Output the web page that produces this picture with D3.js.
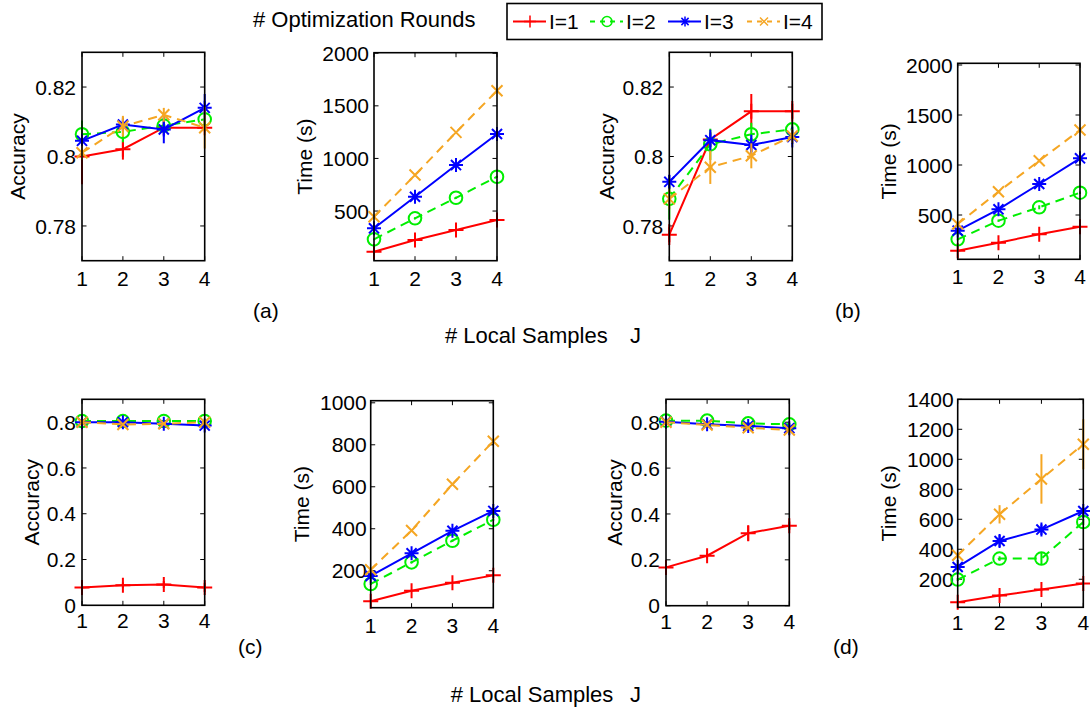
<!DOCTYPE html>
<html><head><meta charset="utf-8">
<script src="https://cdn.jsdelivr.net/npm/d3@7"></script>
<style>
body{margin:0;background:#fff}
svg{display:block}
text{font-family:"Liberation Sans",Arial,Helvetica,sans-serif;fill:#000}
</style>
</head><body>
<svg id="chart" width="1090" height="709"></svg>
<script>
// ---------- data ----------
const J = [1, 2, 3, 4];
const seriesLabels = ["I=1", "I=2", "I=3", "I=4"];

// (a) accuracy, rows = I=1..4
const accA = [
  [0.8000, 0.8021, 0.8083, 0.8083],
  [0.8064, 0.8071, 0.8089, 0.8107],
  [0.8045, 0.8092, 0.8078, 0.8140],
  [0.8011, 0.8087, 0.8120, 0.8083]
];
const accAErr = [
  [0.008, 0.003, 0.001, 0.001],
  [0.004, 0.003, 0.001, 0.002],
  [0.001, 0.0015, 0.004, 0.004],
  [0.002, 0.003, 0.002, 0.006]
];
// (a) time (s)
const timeA = [
  [113, 224, 319, 414],
  [231, 431, 626, 826],
  [336, 636, 937, 1232],
  [446, 842, 1248, 1644]
];
const timeAErr = [
  [8, 8, 8, 8],
  [8, 10, 10, 10],
  [10, 10, 12, 12],
  [10, 12, 12, 12]
];
// (b) accuracy
const accB = [
  [0.7775, 0.8049, 0.8130, 0.8130],
  [0.7878, 0.8035, 0.8064, 0.8078],
  [0.7927, 0.8047, 0.8033, 0.8056],
  [0.7878, 0.7969, 0.8002, 0.8059]
];
const accBErr = [
  [0.003, 0.001, 0.005, 0.003],
  [0.006, 0.0045, 0.0033, 0.002],
  [0.002, 0.003, 0.003, 0.003],
  [0.003, 0.0048, 0.0036, 0.002]
];
// (b) time (s)
const timeB = [
  [143, 223, 307, 383],
  [257, 443, 577, 723],
  [343, 557, 810, 1067],
  [410, 733, 1043, 1350]
];
const timeBErr = [
  [8, 8, 8, 8],
  [10, 12, 20, 12],
  [10, 12, 15, 15],
  [12, 15, 15, 15]
];
// (c) accuracy
const accC = [
  [0.078, 0.088, 0.091, 0.078],
  [0.805, 0.805, 0.805, 0.805],
  [0.800, 0.800, 0.793, 0.785],
  [0.800, 0.790, 0.793, 0.800]
];
const accCErr = [
  [0.012, 0.012, 0.015, 0.02],
  [0.005, 0.005, 0.005, 0.005],
  [0.005, 0.005, 0.005, 0.005],
  [0.005, 0.005, 0.005, 0.005]
];
// (c) time (s)
const timeC = [
  [55, 105, 143, 178],
  [137, 240, 343, 443],
  [175, 283, 390, 485],
  [205, 392, 612, 817]
];
const timeCErr = [
  [4, 4, 4, 4],
  [5, 5, 5, 5],
  [5, 5, 5, 5],
  [6, 6, 6, 6]
];
// (d) accuracy
const accD = [
  [0.167, 0.218, 0.316, 0.349],
  [0.807, 0.807, 0.795, 0.791],
  [0.802, 0.791, 0.784, 0.774],
  [0.800, 0.788, 0.776, 0.766]
];
const accDErr = [
  [0.01, 0.012, 0.035, 0.018],
  [0.005, 0.005, 0.005, 0.005],
  [0.005, 0.005, 0.005, 0.005],
  [0.005, 0.005, 0.005, 0.005]
];
// (d) time (s)
const timeD = [
  [47, 91, 131, 171],
  [198, 338, 338, 582],
  [282, 455, 531, 655],
  [360, 633, 869, 1100]
];
const timeDErr = [
  [5, 5, 5, 5],
  [10, 15, 40, 20],
  [10, 40, 35, 25],
  [15, 61, 165, 167]
];

const accTicksTop = [0.78, 0.8, 0.82];
const accTicksBottom = [0, 0.2, 0.4, 0.6, 0.8];
const timeTicksTop = [500, 1000, 1500, 2000];
const timeTicksC = [200, 400, 600, 800, 1000];
const timeTicksD = [200, 400, 600, 800, 1000, 1200, 1400];

// ---------- styles ----------
const colors = ["#ff0000", "#00ee00", "#0000ff", "#f5a623"];
const dashes = [null, "9,6", null, "9,6"];
const markers = ["plus", "circle", "star", "cross"];

const panels = [
  {box:{l:82, t:52.3, r:204.7, b:260.7}, yDomain:[0.77, 0.83], yTicks:accTicksTop, yLabel:"Accuracy", labelDx:64, vals:accA, errs:accAErr, yGap:6, xGap:10},
  {box:{l:374, t:52.7, r:497, b:260.7}, yDomain:[28, 2005], yTicks:timeTicksTop, yLabel:"Time (s)", labelDx:69, vals:timeA, errs:timeAErr, yGap:5, xGap:10},
  {box:{l:669.3, t:52.3, r:792.3, b:260.7}, yDomain:[0.77, 0.83], yTicks:accTicksTop, yLabel:"Accuracy", labelDx:63, vals:accB, errs:accBErr, yGap:6, xGap:10},
  {box:{l:957.7, t:63.3, r:1080, b:259.3}, yDomain:[57, 2017], yTicks:timeTicksTop, yLabel:"Time (s)", labelDx:69, vals:timeB, errs:timeBErr, yGap:5, xGap:10},
  {box:{l:82, t:399.3, r:204.7, b:605.3}, yDomain:[0, 0.9], yTicks:accTicksBottom, yLabel:"Accuracy", labelDx:50, vals:accC, errs:accCErr, yGap:6, xGap:8},
  {box:{l:370.7, t:400.7, r:493.3, b:607.7}, yDomain:[24, 1010], yTicks:timeTicksC, yLabel:"Time (s)", labelDx:69, vals:timeC, errs:timeCErr, yGap:4, xGap:10},
  {box:{l:666, t:399.3, r:789.3, b:605.7}, yDomain:[0, 0.9], yTicks:accTicksBottom, yLabel:"Accuracy", labelDx:51, vals:accD, errs:accDErr, yGap:6, xGap:8},
  {box:{l:957.7, t:399.3, r:1083.3, b:607.3}, yDomain:[13, 1400], yTicks:timeTicksD, yLabel:"Time (s)", labelDx:69, vals:timeD, errs:timeDErr, yGap:4, xGap:8}
];

const svg = d3.select("#chart");
const fmt = d3.format("~g");

function markerPath(type, x, y, s) {
  const p = d3.path();
  if (type === "plus" || type === "star") {
    p.moveTo(x - s, y); p.lineTo(x + s, y);
    p.moveTo(x, y - s); p.lineTo(x, y + s);
  }
  if (type === "cross" || type === "star") {
    const d = type === "star" ? s * 0.72 : s;
    p.moveTo(x - d, y - d); p.lineTo(x + d, y + d);
    p.moveTo(x - d, y + d); p.lineTo(x + d, y - d);
  }
  return p.toString();
}

function drawMarker(g, type, x, y, s, color, w) {
  if (type === "circle") {
    g.append("circle").attr("cx", x).attr("cy", y).attr("r", s)
      .attr("fill", "none").attr("stroke", color).attr("stroke-width", w);
  } else {
    g.append("path").attr("d", markerPath(type, x, y, s))
      .attr("fill", "none").attr("stroke", color).attr("stroke-width", w);
  }
}
const markerSize = {plus: 7.5, circle: 6.3, star: 7, cross: 5.5};

panels.forEach(p => {
  const {l, t, r, b} = p.box;
  const x = d3.scaleLinear().domain([1, 4]).range([l, r]);
  const y = d3.scaleLinear().domain(p.yDomain).range([b, t]);
  const g = svg.append("g");

  // ticks inside (all four sides)
  const tl = 4.5;
  p.yTicks.forEach(v => {
    g.append("line").attr("x1", l).attr("x2", l + tl).attr("y1", y(v)).attr("y2", y(v)).attr("stroke", "#000").attr("stroke-width", 1);
    g.append("line").attr("x1", r).attr("x2", r - tl).attr("y1", y(v)).attr("y2", y(v)).attr("stroke", "#000").attr("stroke-width", 1);
    g.append("text").attr("x", l - p.yGap).attr("y", y(v)).attr("dy", "0.36em")
      .attr("text-anchor", "end").attr("font-size", 21).text(fmt(v));
  });
  J.forEach(v => {
    g.append("line").attr("x1", x(v)).attr("x2", x(v)).attr("y1", b).attr("y2", b - tl).attr("stroke", "#000").attr("stroke-width", 1);
    g.append("line").attr("x1", x(v)).attr("x2", x(v)).attr("y1", t).attr("y2", t + tl).attr("stroke", "#000").attr("stroke-width", 1);
    g.append("text").attr("x", x(v)).attr("y", b + p.xGap + 15)
      .attr("text-anchor", "middle").attr("font-size", 21).text(v);
  });

  // axis label
  g.append("text")
    .attr("transform", `translate(${l - p.labelDx},${(t + b) / 2}) rotate(-90)`)
    .attr("text-anchor", "middle").attr("dy", "0.35em").attr("font-size", 21)
    .text(p.yLabel);

  // series
  const line = d3.line().x((d, i) => x(J[i])).y(d => y(d));
  p.vals.forEach((vals, si) => {
    const sg = g.append("g");
    sg.append("path").attr("d", line(vals)).attr("fill", "none")
      .attr("stroke", colors[si]).attr("stroke-width", 2)
      .attr("stroke-dasharray", dashes[si]);
    vals.forEach((v, i) => {
      const e = p.errs[si][i];
      sg.append("line").attr("x1", x(J[i])).attr("x2", x(J[i]))
        .attr("y1", y(v - e)).attr("y2", y(v + e))
        .attr("stroke", colors[si]).attr("stroke-width", 2);
      drawMarker(sg, markers[si], x(J[i]), y(v), markerSize[markers[si]], colors[si], 2);
    });
  });

  // box
  g.append("rect").attr("x", l).attr("y", t).attr("width", r - l).attr("height", b - t)
    .attr("fill", "none").attr("stroke", "#000").attr("stroke-width", 1.6);
});

// ---------- titles / annotations ----------
svg.append("text").attr("x", 253).attr("y", 26.5).attr("font-size", 22).text("# Optimization Rounds");
svg.append("text").attr("x", 445).attr("y", 343).attr("font-size", 22).text("# Local Samples");
svg.append("text").attr("x", 630).attr("y", 343).attr("font-size", 22).text("J");
svg.append("text").attr("x", 450.7).attr("y", 701.5).attr("font-size", 22).text("# Local Samples");
svg.append("text").attr("x", 630).attr("y", 701.5).attr("font-size", 22).text("J");
svg.append("text").attr("x", 253).attr("y", 318).attr("font-size", 21).text("(a)");
svg.append("text").attr("x", 835).attr("y", 318).attr("font-size", 21).text("(b)");
svg.append("text").attr("x", 238).attr("y", 654).attr("font-size", 21).text("(c)");
svg.append("text").attr("x", 833).attr("y", 654).attr("font-size", 21).text("(d)");

// ---------- legend ----------
const lg = svg.append("g");
lg.append("rect").attr("x", 507).attr("y", 3.5).attr("width", 315).attr("height", 36)
  .attr("fill", "#fff").attr("stroke", "#000").attr("stroke-width", 1.6);
const legendX = [513, 590, 668, 747];
const legendMarkerSize = {plus: 6, circle: 5, star: 5, cross: 4};
seriesLabels.forEach((lab, i) => {
  const x0 = legendX[i], yy = 21.5;
  lg.append("line").attr("x1", x0).attr("x2", x0 + 33).attr("y1", yy).attr("y2", yy)
    .attr("stroke", colors[i]).attr("stroke-width", 2).attr("stroke-dasharray", dashes[i] ? "5,5" : null);
  drawMarker(lg, markers[i], x0 + 17, yy, legendMarkerSize[markers[i]], colors[i], 1.5);
  lg.append("text").attr("x", x0 + 36).attr("y", 29).attr("font-size", 21).text(lab);
});
</script>
</body></html>
